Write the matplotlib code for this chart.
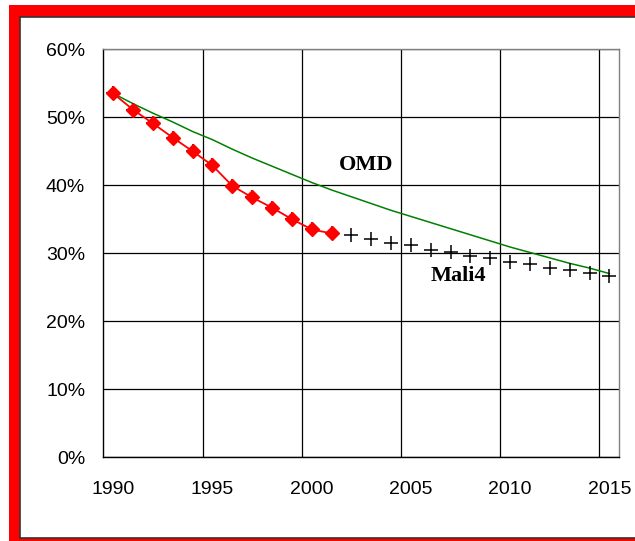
import matplotlib.pyplot as plt
from matplotlib.patches import Rectangle
from matplotlib.ticker import FixedLocator, PercentFormatter

# Données
annees = list(range(1990, 2016))
mali_annees = list(range(1990, 2002))
mali = [53.5, 51.1, 49.1, 47.0, 45.0, 42.9, 39.9, 38.2, 36.7, 35.0, 33.5, 32.9]
mali4 = [53.5, 51.1, 49.1, 47.0, 45.0, 42.9, 39.9, 38.2, 36.7, 35.0, 33.5, 32.9,
         32.6, 32.1, 31.5, 31.2, 30.5, 30.1, 29.6, 29.3, 28.7, 28.4, 27.8, 27.5,
         27.1, 26.6]
omd = [53.5, 52.0, 50.6, 49.3, 47.9, 46.7, 45.3, 44.0, 42.8, 41.6, 40.4, 39.3,
       38.3, 37.3, 36.3, 35.4, 34.5, 33.6, 32.7, 31.8, 30.9, 30.1, 29.3, 28.5,
       27.8, 27.0]
ticks_annees = [1990, 1995, 2000, 2005, 2010, 2015]

W, H = 635, 541
fig = plt.figure(figsize=(W / 100, H / 100), dpi=100)

# Cadre rouge
fig.patches.append(Rectangle((9 / W, 0), 1.0, 536 / H, transform=fig.transFigure,
                             facecolor='#ff0000', edgecolor='none', zorder=0))
fig.patches.append(Rectangle((19.5 / W, 3.5 / H), 1.0, 521 / H, transform=fig.transFigure,
                             facecolor='white', edgecolor='#333333', linewidth=1.2, zorder=1))

ax = fig.add_axes([103.3 / W, (H - 457) / H, 516 / W, 407.7 / H])
ax.set_zorder(2)
ax.set_facecolor('white')

ax.plot(annees, omd, color='#008000', linewidth=1.1, zorder=3)
ax.plot(annees, mali4, linestyle='none', marker='+', markersize=10,
        markeredgewidth=1.1, color='black', zorder=4)
ax.plot(mali_annees, mali, color='#ff0000', linewidth=1.3, marker='D',
        markersize=7, markerfacecolor='#ff0000', markeredgecolor='#ff0000', zorder=5)

ax.text(2002.75, 43.0, 'OMD', family='Liberation Serif', fontweight='bold', fontsize=16,
        ha='center', va='center')
ax.text(2007.4, 26.7, 'Mali4', family='Liberation Serif', fontweight='bold', fontsize=16,
        ha='center', va='center')

ax.set_xlim(1989.5, 2015.5)
ax.set_ylim(0, 60)
ax.xaxis.set_major_locator(FixedLocator(ticks_annees))
ax.xaxis.set_minor_locator(FixedLocator([1994.5, 1999.5, 2004.5, 2009.5, 2014.5]))
ax.yaxis.set_major_locator(FixedLocator(range(0, 61, 10)))
ax.yaxis.set_major_formatter(PercentFormatter(decimals=0))

ax.grid(False)
ax.xaxis.grid(True, which='minor', color='black', linewidth=0.9)
ax.yaxis.grid(True, which='major', color='black', linewidth=0.9)
ax.set_axisbelow(True)

ax.tick_params(axis='x', which='major', length=0, pad=17, labelsize=14)
ax.tick_params(axis='x', which='minor', length=0)
ax.tick_params(axis='y', length=0, pad=13, labelsize=14)
for lab in ax.get_xticklabels() + ax.get_yticklabels():
    lab.set_family('Liberation Sans')

ax.spines['left'].set_color('black')
ax.spines['bottom'].set_color('black')
ax.spines['top'].set_color('#808080')
ax.spines['right'].set_color('#808080')
for s in ax.spines.values():
    s.set_linewidth(1.0)

fig.savefig('out.png', dpi=100)
